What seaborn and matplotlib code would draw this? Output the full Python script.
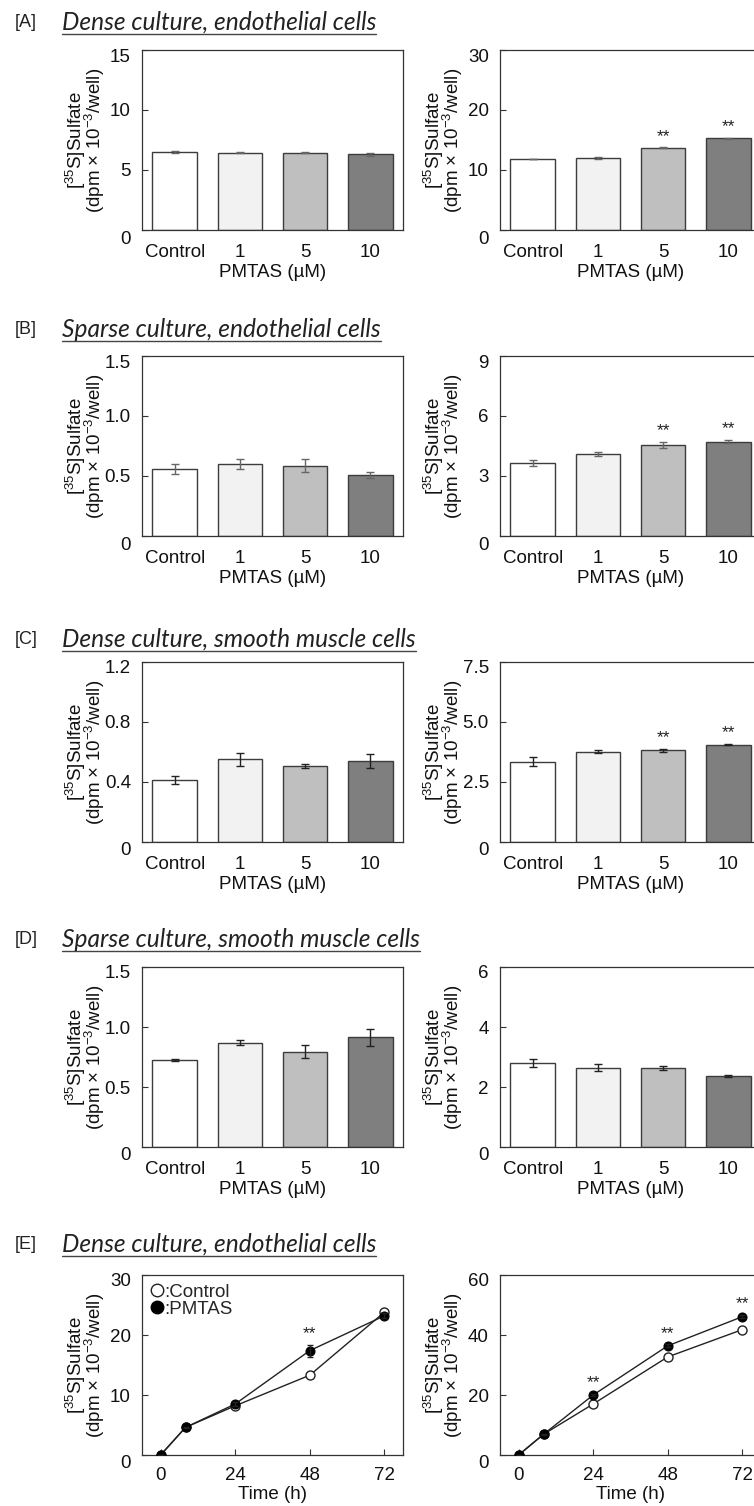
import matplotlib
matplotlib.use("Agg")
import matplotlib.pyplot as plt
from matplotlib.lines import Line2D
from matplotlib.transforms import ScaledTranslation
import pandas as pd
import seaborn as sns

# ---------------- data ----------------
doses = ["Control", "1", "5", "10"]
bar_colors = ["#ffffff", "#f2f2f2", "#bfbfbf", "#7f7f7f"]

section_tags = ["[A]", "[B]", "[C]", "[D]", "[E]"]
section_titles = [
    "Dense culture, endothelial cells",
    "Sparse culture, endothelial cells",
    "Dense culture, smooth muscle cells",
    "Sparse culture, smooth muscle cells",
    "Dense culture, endothelial cells",
]

# [A] dense culture, endothelial cells
a1_mean = [6.5, 6.45, 6.45, 6.3]
a1_err = [0.08, 0.05, 0.03, 0.15]
a1_sig = [0, 0, 0, 0]
a1_ticks = [0, 5, 10, 15]
a1_ticklabels = ["0", "5", "10", "15"]

a2_mean = [11.85, 12.05, 13.7, 15.3]
a2_err = [0.05, 0.2, 0.08, 0.05]
a2_sig = [0, 0, 1, 1]
a2_ticks = [0, 10, 20, 30]
a2_ticklabels = ["0", "10", "20", "30"]

# [B] sparse culture, endothelial cells
b1_mean = [0.56, 0.60, 0.585, 0.51]
b1_err = [0.04, 0.038, 0.055, 0.025]
b1_sig = [0, 0, 0, 0]
b1_ticks = [0, 0.5, 1.0, 1.5]
b1_ticklabels = ["0", "0.5", "1.0", "1.5"]

b2_mean = [3.65, 4.1, 4.55, 4.72]
b2_err = [0.15, 0.08, 0.17, 0.07]
b2_sig = [0, 0, 1, 1]
b2_ticks = [0, 3, 6, 9]
b2_ticklabels = ["0", "3", "6", "9"]

# [C] dense culture, smooth muscle cells
c1_mean = [0.415, 0.55, 0.508, 0.542]
c1_err = [0.026, 0.044, 0.015, 0.047]
c1_sig = [0, 0, 0, 0]
c1_ticks = [0, 0.4, 0.8, 1.2]
c1_ticklabels = ["0", "0.4", "0.8", "1.2"]

c2_mean = [3.35, 3.77, 3.83, 4.06]
c2_err = [0.19, 0.05, 0.06, 0.02]
c2_sig = [0, 0, 1, 1]
c2_ticks = [0, 2.5, 5.0, 7.5]
c2_ticklabels = ["0", "2.5", "5.0", "7.5"]

# [D] sparse culture, smooth muscle cells
d1_mean = [0.725, 0.87, 0.795, 0.915]
d1_err = [0.005, 0.018, 0.054, 0.07]
d1_sig = [0, 0, 0, 0]
d1_ticks = [0, 0.5, 1.0, 1.5]
d1_ticklabels = ["0", "0.5", "1.0", "1.5"]

d2_mean = [2.8, 2.65, 2.63, 2.38]
d2_err = [0.12, 0.13, 0.07, 0.03]
d2_sig = [0, 0, 0, 0]
d2_ticks = [0, 2, 4, 6]
d2_ticklabels = ["0", "2", "4", "6"]

# [E] time course, dense culture, endothelial cells
hours = [0, 8, 24, 48, 72]
hour_ticks = [0, 24, 48, 72]

e1_ctrl = [0, 4.6, 8.2, 13.3, 23.8]
e1_ctrl_err = [0, 0.1, 0.2, 0.2, 0.3]
e1_pmtas = [0, 4.6, 8.5, 17.4, 23.2]
e1_pmtas_err = [0, 0.1, 0.3, 1.0, 0.4]
e1_sig = [0, 0, 0, 1, 0]
e1_ticks = [0, 10, 20, 30]
e1_ticklabels = ["0", "10", "20", "30"]

e2_ctrl = [0, 6.9, 17.0, 32.7, 41.8]
e2_ctrl_err = [0, 0.2, 0.3, 0.4, 0.4]
e2_pmtas = [0, 6.9, 20.0, 36.4, 46.1]
e2_pmtas_err = [0, 0.2, 0.4, 0.5, 0.5]
e2_sig = [0, 0, 1, 1, 1]
e2_ticks = [0, 20, 40, 60]
e2_ticklabels = ["0", "20", "40", "60"]

# ---------------- style ----------------
sns.set_style("ticks")
plt.rcParams["font.family"] = ["Liberation Sans", "DejaVu Sans"]
plt.rcParams["mathtext.fontset"] = "custom"
plt.rcParams["mathtext.rm"] = "Liberation Sans"
plt.rcParams["mathtext.it"] = "Liberation Sans:italic"
plt.rcParams["mathtext.default"] = "regular"

W, H = 754, 1506
FS = 13.5
INK = "#333333"
TXT = "#111111"
YLABEL = "[$^{35}$S]Sulfate\n(dpm × 10$^{-3}$/well)"

fig = plt.figure(figsize=(W / 100, H / 100), dpi=100)

col_left = [142, 500]
ax_w = 261
row_top = [50, 356, 662, 967, 1275]
ax_h = 180
title_base = [30, 337, 647, 947, 1252]
all_axes = []


def make_axes(col, row):
    x0 = col_left[col] / W
    y0 = 1 - (row_top[row] + ax_h) / H
    ax = fig.add_axes([x0, y0, ax_w / W, ax_h / H])
    all_axes.append(ax)
    return ax


def style_axes(ax, ticks, ticklabels):
    ax.set_ylim(0, ticks[-1])
    ax.set_yticks(ticks)
    ax.set_yticklabels(ticklabels)
    for s in ax.spines.values():
        s.set_visible(True)
        s.set_color(INK)
        s.set_linewidth(0.9)
    ax.tick_params(axis="y", direction="in", length=4, width=0.8,
                   color=INK, pad=8, labelsize=FS, labelcolor=TXT)
    ax.set_ylabel(YLABEL, fontsize=FS, color=TXT, linespacing=0.72)
    ax.yaxis.set_label_coords(-0.135, 0.5)


def stars(ax, xs, tops, sig):
    for x, t, s in zip(xs, tops, sig):
        if s:
            ax.annotate("**", (x, t), xytext=(0, 8), textcoords="offset points",
                        ha="center", va="center", fontsize=12.5, color="#222222")


def bar_panel(ax, mean, err, sig, ticks, ticklabels, ecolor):
    df = pd.DataFrame({"dose": doses, "value": mean})
    sns.barplot(data=df, x="dose", y="value", hue="dose", order=doses,
                hue_order=doses, palette=bar_colors, legend=False,
                saturation=1, width=0.68, edgecolor="#3c3c3c",
                linewidth=1.0, ax=ax)
    xs = list(range(len(doses)))
    ax.errorbar(xs, mean, yerr=err, fmt="none", ecolor=ecolor,
                elinewidth=1.0, capsize=3, capthick=1.0, zorder=5)
    stars(ax, xs, [m + e for m, e in zip(mean, err)], sig)
    ax.set_xlim(-0.5, len(doses) - 0.5)
    style_axes(ax, ticks, ticklabels)
    ax.tick_params(axis="x", length=0, pad=10, labelsize=FS, labelcolor=TXT)
    ax.set_xlabel("PMTAS (µM)", fontsize=FS, color=TXT, labelpad=2)


def line_panel(ax, ctrl, ctrl_err, pmtas, pmtas_err, sig, ticks, ticklabels,
               legend=False):
    sns.lineplot(x=hours, y=ctrl, ax=ax, color="#222222", linewidth=1.0,
                 marker="o", markersize=6.5, markerfacecolor="white",
                 markeredgecolor="#222222", markeredgewidth=1.0, zorder=3)
    ax.errorbar(hours, ctrl, yerr=ctrl_err, fmt="none", ecolor="#222222",
                elinewidth=1.0, capsize=2.5, zorder=2)
    sns.lineplot(x=hours, y=pmtas, ax=ax, color="#222222", linewidth=1.0,
                 marker="o", markersize=6.5, markerfacecolor="black",
                 markeredgecolor="black", zorder=4)
    ax.errorbar(hours, pmtas, yerr=pmtas_err, fmt="none", ecolor="#222222",
                elinewidth=1.0, capsize=2.5, zorder=4)
    stars(ax, hours, [p + e for p, e in zip(pmtas, pmtas_err)], sig)
    ax.set_xlim(-6, 78)
    ax.set_xticks(hour_ticks)
    ax.set_xticklabels([str(h) for h in hour_ticks])
    style_axes(ax, ticks, ticklabels)
    ax.tick_params(axis="x", direction="in", length=4, width=0.8, color=INK,
                   pad=9, labelsize=FS, labelcolor=TXT)
    ax.set_xlabel("Time (h)", fontsize=FS, color=TXT, labelpad=1)
    if legend:
        handles = [
            Line2D([], [], linestyle="none", marker="o", markersize=9,
                   markerfacecolor="white", markeredgecolor="#222222"),
            Line2D([], [], linestyle="none", marker="o", markersize=9,
                   markerfacecolor="black", markeredgecolor="black"),
        ]
        ax.legend(handles, [":Control", ":PMTAS"], loc="upper left",
                  frameon=False, fontsize=FS, handlelength=0.7,
                  handletextpad=0.05, labelspacing=0.0,
                  borderaxespad=0.25, borderpad=0.2)


bar_sets = [
    (a1_mean, a1_err, a1_sig, a1_ticks, a1_ticklabels,
     a2_mean, a2_err, a2_sig, a2_ticks, a2_ticklabels, "#666666"),
    (b1_mean, b1_err, b1_sig, b1_ticks, b1_ticklabels,
     b2_mean, b2_err, b2_sig, b2_ticks, b2_ticklabels, "#666666"),
    (c1_mean, c1_err, c1_sig, c1_ticks, c1_ticklabels,
     c2_mean, c2_err, c2_sig, c2_ticks, c2_ticklabels, "#222222"),
    (d1_mean, d1_err, d1_sig, d1_ticks, d1_ticklabels,
     d2_mean, d2_err, d2_sig, d2_ticks, d2_ticklabels, "#222222"),
]

for row, (lm, le, ls, lt, ltl, rm, re_, rs, rt, rtl, ec) in enumerate(bar_sets):
    bar_panel(make_axes(0, row), lm, le, ls, lt, ltl, ec)
    bar_panel(make_axes(1, row), rm, re_, rs, rt, rtl, ec)

line_panel(make_axes(0, 4), e1_ctrl, e1_ctrl_err, e1_pmtas, e1_pmtas_err,
           e1_sig, e1_ticks, e1_ticklabels, legend=True)
line_panel(make_axes(1, 4), e2_ctrl, e2_ctrl_err, e2_pmtas, e2_pmtas_err,
           e2_sig, e2_ticks, e2_ticklabels)

# the end labels of each value axis sit a little below their ticks
for ax in all_axes:
    ylabels = ax.yaxis.get_majorticklabels()
    for lab, dy in ((ylabels[0], -7), (ylabels[-1], -5)):
        lab.set_transform(lab.get_transform()
                          + ScaledTranslation(0, dy / 100, fig.dpi_scale_trans))

# section headers: bracketed tag plus underlined italic title
titles = []
for tag, title, base in zip(section_tags, section_titles, title_base):
    fig.text(15 / W, 1 - (base - 3) / H, tag, fontsize=13, va="baseline",
             ha="left", color="#222222")
    t = fig.text(62 / W, 1 - base / H, title, fontsize=14, va="baseline",
                 ha="left", style="italic", family="Lato",
                 color="#222222")
    titles.append((t, base))

fig.canvas.draw()
renderer = fig.canvas.get_renderer()
target = 316.0
w0 = titles[0][0].get_window_extent(renderer).width
scale = target / w0
for t, base in titles:
    t.set_fontsize(14 * scale)
fig.canvas.draw()
for t, base in titles:
    bb = t.get_window_extent(renderer)
    yl = 1 - (base + 3.5) / H
    fig.add_artist(Line2D([bb.x0 / W, bb.x1 / W], [yl, yl],
                          color="#444444", linewidth=1.0))

fig.savefig("out.png", dpi=100)
